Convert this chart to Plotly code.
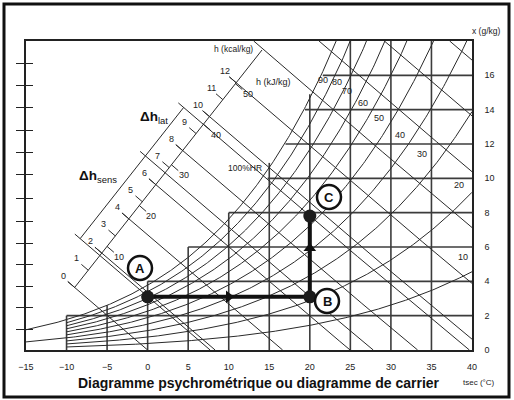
import numpy as np
import plotly.graph_objects as go

# ---------------- data ----------------
t_tick_vals = [-15, -10, -5, 0, 5, 10, 15, 20, 25, 30, 35, 40]
x_tick_vals = [0, 2, 4, 6, 8, 10, 12, 14, 16]
left_scale_ticks = [1.2, 2.5, 3.7, 5.0, 6.2, 7.5, 8.8, 10.2, 11.5, 12.8, 14.1, 15.4, 16.7]

grid_t = [-10, -5, 0, 5, 10, 15, 20, 25, 30, 35]
grid_t_top = [2.0, 2.6, 4.0, 6.0, 8.0, 10.9, 14.9, 18, 18, 18]
grid_x = [2, 4, 6, 8, 10, 12, 14, 16]
grid_x_start = [-10, 0, 5, 10, 14.8, 17.0, 19.4, 21.6]

rh_levels = [10, 20, 30, 40, 50, 60, 70, 80, 90]
rh_start_t = [-10, -10, -10, -15, -10, -10, -10, -10, -10]
rh_label_t = [38.9, 38.4, 33.8, 31.1, 28.5, 26.6, 24.6, 23.3, 21.6]
rh_label_x = [5.4, 9.6, 11.4, 12.5, 13.5, 14.4, 15.1, 15.6, 15.7]

h_lines_kcal = [0, 2, 4, 6, 8, 10, 12, 14, 16, 18, 20]
kcal_scale = list(range(0, 13))
kj_scale = [10, 20, 30, 40, 50]

pt_names = ["A", "B", "C"]
pt_t = [0, 20, 20]
pt_x = [3.1, 3.1, 7.8]

# ---------------- layout constants ----------------
W, H = 514, 400
PL, PR, PT, PB = 26, 472, 41, 350
T_RANGE = (-15, 40)
X_RANGE = (0, 18)
KT = (PR - PL) / (T_RANGE[1] - T_RANGE[0])
KX = (PB - PT) / (X_RANGE[1] - X_RANGE[0])
FONT = "Liberation Sans, Arial, sans-serif"
INK = "#222"


def p2d(px, py):
    return T_RANGE[0] + (px - PL) / KT, X_RANGE[0] + (PB - py) / KX


def off(p, dpx, dpy):
    return p[0] + dpx / KT, p[1] - dpy / KX


def paper_x(px):
    return (px - PL) / (PR - PL)


def paper_y(py):
    return (PB - py) / (PB - PT)


def enth(t, x):
    return 1.006 * t + x / 1000.0 * (2501 + 1.86 * t)


def x_of(h, t):
    return 1000.0 * (h - 1.006 * t) / (2501 + 1.86 * t)


def ps(t):
    return 610.94 * np.exp(17.625 * t / (t + 243.04))


def x_rh(phi, t):
    p = phi * ps(t)
    return 622.0 * p / (101325.0 - p)


def on_line(p0, p1, s):
    return p0[0] + (p1[0] - p0[0]) * s, p0[1] + (p1[1] - p0[1]) * s


def find_on_line(p0, p1, h):
    lo, hi = -1.0, 2.0
    for _ in range(60):
        mid = (lo + hi) / 2
        if enth(*on_line(p0, p1, mid)) < h:
            lo = mid
        else:
            hi = mid
    return on_line(p0, p1, (lo + hi) / 2)


def ann(x, y, text, size, color=INK, ref="data"):
    d = dict(x=x, y=y, text=text, showarrow=False, xanchor="center", yanchor="middle",
             font=dict(size=size, color=color))
    if ref == "paper":
        d.update(xref="paper", yref="paper")
    return d


# unit vector (pixels) pointing up-left along the enthalpy lines
_v = np.array([-KT, -0.405 * KX])
U = _v / np.linalg.norm(_v)

# enthalpy scale line (decoration) and the delta-h bracket line
SB0, SB1 = p2d(75, 287), p2d(262, 50)
SA0, SA1 = off(SB0, -19.6, -17), off(SB1, -19.6, -17)
KCAL = 4.1868

fig = go.Figure()

# ---------------- grid ----------------
gx, gy = [], []
for t, top in zip(grid_t, grid_t_top):
    gx += [t, t, None]
    gy += [0, top, None]
for x, st in zip(grid_x, grid_x_start):
    gx += [st, T_RANGE[1], None]
    gy += [x, x, None]
fig.add_trace(go.Scatter(x=gx, y=gy, mode="lines", line=dict(color="#3c3c3c", width=1.6),
                         hoverinfo="skip"))

# ---------------- relative humidity curves ----------------
rx, ry = [], []
for phi, t0 in zip(rh_levels, rh_start_t):
    ts = np.linspace(t0, 40, 300)
    rx += list(ts) + [None]
    ry += list(x_rh(phi / 100.0, ts)) + [None]
ts = np.linspace(-15, 24.5, 300)
rx += list(ts) + [None]
ry += list(x_rh(1.0, ts)) + [None]
fig.add_trace(go.Scatter(x=rx, y=ry, mode="lines", line=dict(color="#2a2a2a", width=1),
                         hoverinfo="skip"))

# ---------------- enthalpy lines ----------------
hB_max = enth(*SB1)
ex, ey = [], []


def add_hline(h, start):
    t_end = min(T_RANGE[1], h / 1.006)
    ts = np.linspace(start[0], t_end, 40)
    xs = x_of(h, ts)
    xs[0] = start[1]
    ex.extend(list(ts) + [None])
    ey.extend(list(xs) + [None])


for k in h_lines_kcal:
    h = k * KCAL
    if h <= hB_max:
        P = find_on_line(SB0, SB1, h)
        start = off(P, 9 * U[0], 9 * U[1])
    else:
        lo, hi = -15.0, 40.0
        for _ in range(60):
            mid = (lo + hi) / 2
            if x_of(h, mid) > X_RANGE[1]:
                lo = mid
            else:
                hi = mid
        start = (lo, X_RANGE[1])
    add_hline(h, start)

h_pts = [enth(t, x) for t, x in zip(pt_t, pt_x)]
for h in h_pts:
    P = find_on_line(SA0, SA1, h)
    add_hline(h, off(P, 7 * U[0], 7 * U[1]))

fig.add_trace(go.Scatter(x=ex, y=ey, mode="lines", line=dict(color="#2a2a2a", width=1),
                         hoverinfo="skip"))

# ---------------- scale lines + ticks ----------------
sx, sy = [], []
PB0 = find_on_line(SB0, SB1, 0)
sx += [PB0[0], SB1[0], None]
sy += [PB0[1], SB1[1], None]
pa0 = find_on_line(SA0, SA1, h_pts[0])
pa1 = find_on_line(SA0, SA1, h_pts[2])
sx += [pa0[0], pa1[0], None]
sy += [pa0[1], pa1[1], None]
annotations = []
for k in kcal_scale:
    P = find_on_line(SB0, SB1, k * KCAL)
    q = off(P, 9 * U[0], 9 * U[1])
    sx += [P[0], q[0], None]
    sy += [P[1], q[1], None]
    lab = off(P, 15 * U[0], 15 * U[1] - 2)
    annotations.append(ann(lab[0], lab[1], str(k), 9))
for v in kj_scale:
    P = find_on_line(SB0, SB1, v)
    q = off(P, -9 * U[0], -9 * U[1])
    sx += [P[0], q[0], None]
    sy += [P[1], q[1], None]
    lab = off(P, -16 * U[0], -16 * U[1])
    annotations.append(ann(lab[0], lab[1], str(v), 9))
fig.add_trace(go.Scatter(x=sx, y=sy, mode="lines", line=dict(color="#2a2a2a", width=1),
                         hoverinfo="skip"))

# ---------------- process A -> B -> C ----------------
fig.add_trace(go.Scatter(x=pt_t, y=pt_x, mode="lines", line=dict(color="#111", width=4),
                         hoverinfo="skip"))
fig.add_trace(go.Scatter(x=[(pt_t[0] + pt_t[1]) / 2], y=[pt_x[0]], mode="markers",
                         marker=dict(symbol="triangle-right", size=11, color="#111"),
                         hoverinfo="skip"))
fig.add_trace(go.Scatter(x=[pt_t[1]], y=[pt_x[1] + 0.6 * (pt_x[2] - pt_x[1])], mode="markers",
                         marker=dict(symbol="triangle-up", size=11, color="#111"),
                         hoverinfo="skip"))
fig.add_trace(go.Scatter(x=pt_t, y=pt_x, mode="markers",
                         marker=dict(size=13, color="#1c1c1c"), hoverinfo="skip"))

# invisible traces to create the left tick axes
fig.add_trace(go.Scatter(x=[-20], y=[-5], yaxis="y2", mode="markers", hoverinfo="skip"))
fig.add_trace(go.Scatter(x=[-20], y=[-5], yaxis="y3", mode="markers", hoverinfo="skip"))

# ---------------- labels ----------------
shapes = []
label_px = [(140, 268), (327, 301), (329, 197)]
for name, (lx, ly) in zip(pt_names, label_px):
    c = p2d(lx, ly)
    shapes.append(dict(type="circle", xref="x", yref="y", xsizemode="pixel", ysizemode="pixel",
                       xanchor=c[0], yanchor=c[1], x0=-12, x1=12, y0=-12, y1=12,
                       line=dict(color="#111", width=2.5), fillcolor="white", layer="above"))
    annotations.append(ann(c[0], c[1], "<b>%s</b>" % name, 13, "#111"))

for (px, py, txt) in [(98, 176, "<b>Δh</b><sub>sens</sub>"), (154, 117, "<b>Δh</b><sub>lat</sub>")]:
    t, x = p2d(px, py)
    annotations.append(ann(t, x, txt, 13.5, "#111"))

for phi, t, x in zip(rh_levels, rh_label_t, rh_label_x):
    annotations.append(ann(t, x, str(phi), 9))

for (px, py, txt, size) in [
    (233, 49, "h (kcal/kg)", 8.5),
    (273, 82, "h (kJ/kg)", 9),
    (245, 168, "100%HR", 8.5),
]:
    t, x = p2d(px, py)
    annotations.append(ann(t, x, txt, size))

annotations.append(ann(paper_x(486), paper_y(31), "x (g/kg)", 8.5, ref="paper"))
annotations.append(ann(paper_x(479), paper_y(382), "tsec (°C)", 8, ref="paper"))
annotations.append(ann(paper_x(259), paper_y(383),
                       "<b>Diagramme psychrométrique ou diagramme de carrier</b>", 14, "#111",
                       ref="paper"))

shapes.append(dict(type="rect", xref="paper", yref="paper",
                   x0=paper_x(4), x1=paper_x(509), y0=paper_y(397), y1=paper_y(4),
                   line=dict(color="#111", width=3), fillcolor="rgba(0,0,0,0)", layer="above"))

fig.update_layout(
    width=W, height=H,
    margin=dict(l=PL, r=W - PR, t=PT, b=H - PB, pad=0),
    paper_bgcolor="white", plot_bgcolor="white", showlegend=False,
    font=dict(family=FONT, size=9, color=INK),
    xaxis=dict(range=list(T_RANGE), tickvals=t_tick_vals, showgrid=False, zeroline=False,
               showline=True, linecolor="#222", linewidth=1.6, mirror=True, ticks="",
               ticklabelstandoff=7, tickfont=dict(size=9, color=INK)),
    yaxis=dict(range=list(X_RANGE), side="right", tickvals=x_tick_vals, showgrid=False,
               zeroline=False, showline=True, linecolor="#222", linewidth=1.6, mirror=True,
               ticks="", ticklabelstandoff=9, tickfont=dict(size=9, color=INK)),
    yaxis2=dict(range=list(X_RANGE), overlaying="y", side="left", tickvals=left_scale_ticks,
                ticks="outside", ticklen=9, tickwidth=1.3, tickcolor="#222",
                showticklabels=False, showgrid=False, zeroline=False, showline=False),
    yaxis3=dict(range=list(X_RANGE), overlaying="y", side="left", tickvals=left_scale_ticks,
                ticks="inside", ticklen=7, tickwidth=1.3, tickcolor="#222",
                showticklabels=False, showgrid=False, zeroline=False, showline=False),
    shapes=shapes,
    annotations=annotations,
)

fig.write_html("out.html")
